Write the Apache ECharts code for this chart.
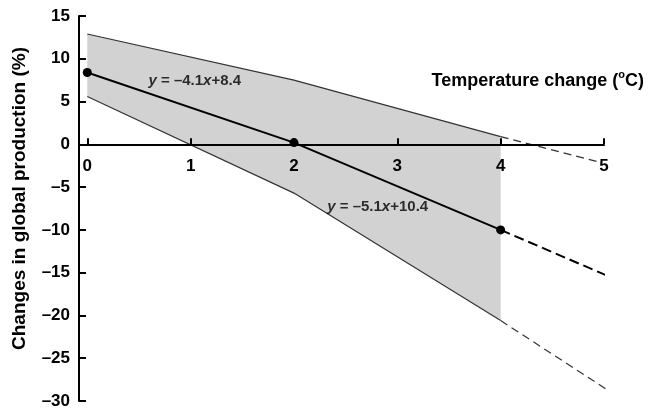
<!DOCTYPE html>
<html>
<head>
<meta charset="utf-8">
<script src="https://cdn.jsdelivr.net/npm/echarts@6/dist/echarts.min.js"></script>
<style>
  html, body { margin: 0; padding: 0; background: #fff; }
  #chart { width: 648px; height: 414px; }
</style>
</head>
<body>
<div id="chart"></div>
<script>
// temperature change (degC) where the segments break
const tempX = [0, 2, 4];
// fitted central line and the upper / lower bounds of the range
const mainY = [8.4, 0.2, -10.0];
const upperY = [12.9, 7.5, 0.9];
const lowerY = [5.6, -5.7, -20.6];
// dashed extrapolation beyond 4 degC: [x, y] of the end point
const mainExt = [5.02, -15.3];
const upperExt = [4.93, -2.0];
const lowerExt = [5.02, -28.6];

const xTicks = [0, 1, 2, 3, 4, 5];

const FONT = 'Arial, "Liberation Sans", sans-serif';
const GRID_BOTTOM = 13;

function pairs(xs, ys) {
    return xs.map((x, i) => [x, ys[i]]);
}

function extension(xs, ys, end) {
    let last = xs.length - 1;
    return [[xs[last], ys[last]], end];
}

let chart = echarts.init(document.getElementById('chart'));

let option = {
    animation: false,
    textStyle: { fontFamily: FONT },
    title: {
        text: 'Temperature change ({sup|o}C)',
        right: 4,
        top: 69,
        padding: 0,
        textStyle: {
            fontFamily: FONT,
            fontSize: 18,
            fontWeight: 'bold',
            color: '#000',
            rich: {
                sup: { fontFamily: FONT, fontSize: 11, fontWeight: 'bold', color: '#000', verticalAlign: 'top', padding: [0, 0, 13, 0] }
            }
        }
    },
    grid: { left: 79, right: 44, top: 16, bottom: GRID_BOTTOM, containLabel: false, outerBoundsMode: 'none' },
    xAxis: {
        type: 'value',
        min: -0.08,
        max: 5,
        z: 4,
        splitLine: { show: false },
        axisLine: { onZero: false, lineStyle: { color: '#000', width: 2 } },
        axisTick: { inside: true, length: 6, customValues: xTicks, lineStyle: { color: '#000', width: 2 } },
        axisLabel: {
            customValues: xTicks,
            margin: 13,
            color: '#000',
            fontSize: 17,
            fontWeight: 'bold',
            fontFamily: FONT
        }
    },
    yAxis: {
        type: 'value',
        min: -30,
        max: 15,
        interval: 5,
        z: 4,
        name: 'Changes in global production (%)',
        nameLocation: 'middle',
        nameGap: 50,
        nameTextStyle: { color: '#000', fontSize: 19, fontWeight: 'bold', fontFamily: FONT, padding: [0, 0, 0, 20] },
        splitLine: { show: false },
        axisLine: { onZero: false, lineStyle: { color: '#000', width: 2 } },
        axisTick: { inside: true, length: 7, lineStyle: { color: '#000', width: 2 } },
        axisLabel: {
            margin: 9,
            color: '#000',
            fontSize: 17,
            fontWeight: 'bold',
            fontFamily: FONT,
            formatter: v => String(v).replace('-', '\u2013')
        }
    },
    series: [
        {
            type: 'custom',
            silent: true,
            z: 1,
            data: [0],
            renderItem(params, api) {
                let pts = pairs(tempX, upperY).map(p => api.coord(p));
                let low = pairs(tempX, lowerY).map(p => api.coord(p)).reverse();
                return {
                    type: 'polygon',
                    shape: { points: pts.concat(low) },
                    style: { fill: '#d2d2d2' }
                };
            }
        },
        {
            type: 'line',
            data: pairs(tempX, upperY),
            symbol: 'none',
            z: 3,
            lineStyle: { color: '#333', width: 1.2 }
        },
        {
            type: 'line',
            data: extension(tempX, upperY, upperExt),
            symbol: 'none',
            z: 3,
            lineStyle: { color: '#333', width: 1.2, type: [8, 5] }
        },
        {
            type: 'line',
            data: pairs(tempX, lowerY),
            symbol: 'none',
            z: 3,
            lineStyle: { color: '#333', width: 1.2 }
        },
        {
            type: 'line',
            data: extension(tempX, lowerY, lowerExt),
            symbol: 'none',
            z: 3,
            lineStyle: { color: '#333', width: 1.2, type: [8, 5] }
        },
        {
            type: 'line',
            data: extension(tempX, mainY, mainExt),
            symbol: 'none',
            z: 5,
            lineStyle: { color: '#000', width: 2, type: [10, 5] }
        },
        {
            type: 'line',
            data: pairs(tempX, mainY),
            symbol: 'circle',
            symbolSize: 9,
            showAllSymbol: true,
            z: 6,
            itemStyle: { color: '#000' },
            lineStyle: { color: '#000', width: 2 }
        },
        {
            type: 'scatter',
            symbolSize: 0,
            z: 7,
            silent: true,
            data: [
                { value: [1.04, 7.45], eq: '{i|y} = \u20134.1{i|x}+8.4' },
                { value: [2.81, -7.3], eq: '{i|y} = \u20135.1{i|x}+10.4' }
            ],
            label: {
                show: true,
                position: 'inside',
                formatter: p => p.data.eq,
                color: '#000',
                fontFamily: FONT,
                fontSize: 15,
                fontWeight: 'bold',
                rich: {
                    i: { fontFamily: FONT, fontSize: 15, fontWeight: 'bold', fontStyle: 'italic', color: '#000' }
                }
            }
        }
    ]
};

chart.setOption(option);

// move the x axis (line, ticks and labels) up so it crosses the y axis at zero
let zeroY = chart.convertToPixel({ yAxisIndex: 0 }, 0);
let bottomY = chart.getHeight() - GRID_BOTTOM;
chart.setOption({ xAxis: { offset: -(bottomY - zeroY) } });
</script>
</body>
</html>
